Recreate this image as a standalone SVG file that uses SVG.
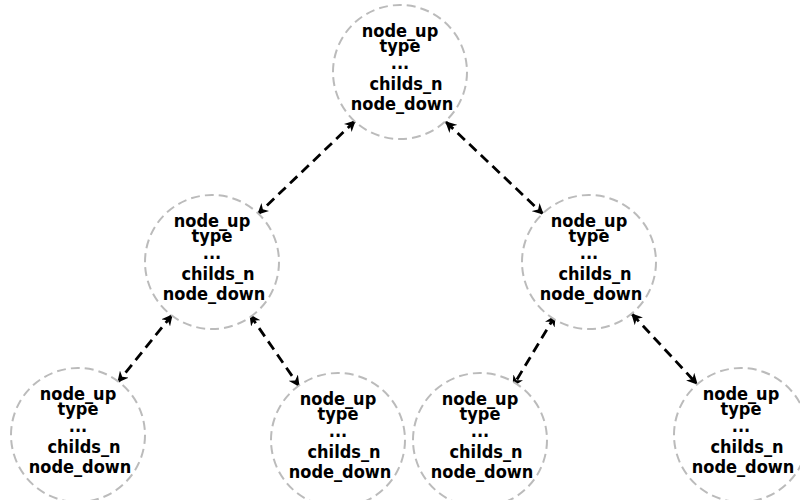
<svg xmlns="http://www.w3.org/2000/svg" width="800" height="500" viewBox="0 0 800 500">
<style>
.n circle{fill:#fff;stroke:#bbb;stroke-width:2;stroke-dasharray:9,5}
.n text{font-family:"DejaVu Sans Condensed","DejaVu Sans",sans-serif;font-stretch:condensed;font-weight:bold;font-size:18px;text-anchor:middle;fill:#000}
.c line{stroke:#000;stroke-width:2.8;stroke-dasharray:10,6;marker-start:url(#a);marker-end:url(#a)}
</style>
<defs>
<marker id="a" viewBox="0 0 10 10" refX="9" refY="5" markerWidth="4" markerHeight="4" orient="auto-start-reverse" markerUnits="strokeWidth">
<path d="M0,0 L10,5 L0,10 L3,5 z" fill="#000"/>
</marker>
</defs>
<rect width="800" height="500" fill="#fff"/>
<g class="c" id="connectors">
<line x1="355" y1="121" x2="258" y2="214"/>
<line x1="446" y1="122" x2="543" y2="214"/>
<line x1="172" y1="315" x2="118" y2="382"/>
<line x1="250" y1="315" x2="299" y2="386"/>
<line x1="555" y1="316" x2="513" y2="386"/>
<line x1="632" y1="314" x2="697" y2="384"/>
</g>
<g class="n" id="root" transform="translate(400,72)">
<circle r="67"/>
<text y="-35">node_up</text><text y="-20.5">type</text><text y="-3">...</text><text x="6" y="18">childs_n</text><text x="2" y="37.5">node_down</text>
</g>
<g class="n" id="midleft" transform="translate(212,262)">
<circle r="67"/>
<text y="-35">node_up</text><text y="-20.5">type</text><text y="-3">...</text><text x="6" y="18">childs_n</text><text x="2" y="37.5">node_down</text>
</g>
<g class="n" id="midright" transform="translate(589,262)">
<circle r="67"/>
<text y="-35">node_up</text><text y="-20.5">type</text><text y="-3">...</text><text x="6" y="18">childs_n</text><text x="2" y="37.5">node_down</text>
</g>
<g class="n" id="leaf1" transform="translate(78,435)">
<circle r="67"/>
<text y="-35">node_up</text><text y="-20.5">type</text><text y="-3">...</text><text x="6" y="18">childs_n</text><text x="2" y="37.5">node_down</text>
</g>
<g class="n" id="leaf2" transform="translate(338,440)">
<circle r="67"/>
<text y="-35">node_up</text><text y="-20.5">type</text><text y="-3">...</text><text x="6" y="18">childs_n</text><text x="2" y="37.5">node_down</text>
</g>
<g class="n" id="leaf3" transform="translate(480,440)">
<circle r="67"/>
<text y="-35">node_up</text><text y="-20.5">type</text><text y="-3">...</text><text x="6" y="18">childs_n</text><text x="2" y="37.5">node_down</text>
</g>
<g class="n" id="leaf4" transform="translate(741,435)">
<circle r="67"/>
<text y="-35">node_up</text><text y="-20.5">type</text><text y="-3">...</text><text x="6" y="18">childs_n</text><text x="2" y="37.5">node_down</text>
</g>
</svg>
